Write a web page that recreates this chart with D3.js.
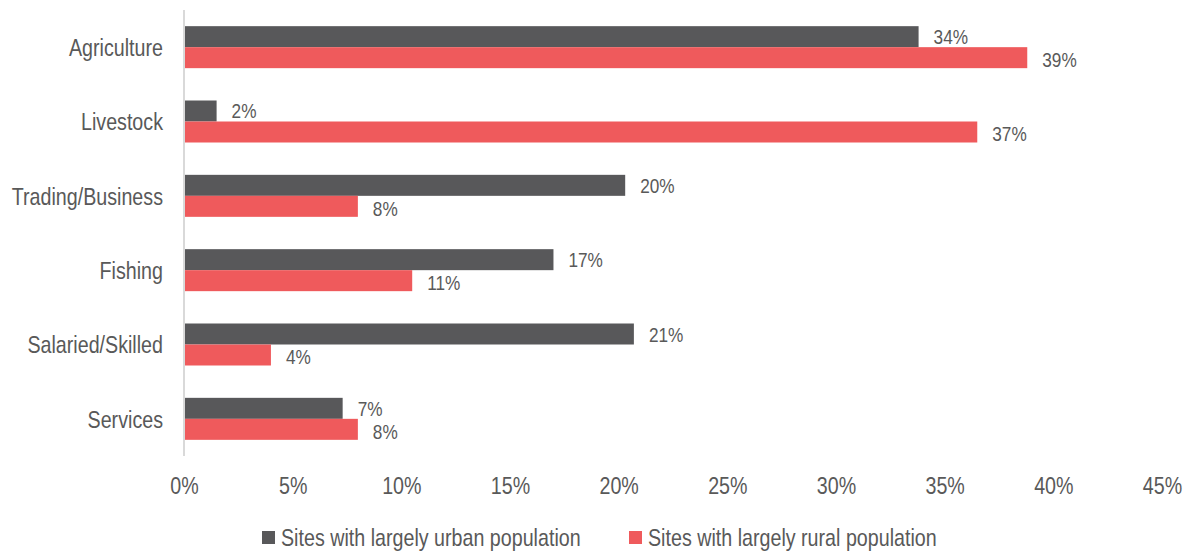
<!DOCTYPE html>
<html><head><meta charset="utf-8">
<script src="https://cdn.jsdelivr.net/npm/d3@7"></script>
<style>
html,body{margin:0;padding:0;background:#fff;}
text{font-family:"Liberation Sans Narrow","Liberation Sans",Arial,sans-serif;fill:#595959;}
</style></head><body>
<svg id="chart" width="1189" height="552"></svg>
<script>
const categories = ["Agriculture","Livestock","Trading/Business","Fishing","Salaried/Skilled","Services"];
const seriesNames = ["Sites with largely urban population","Sites with largely rural population"];
const urbanValues = [33.8, 1.5, 20.3, 17.0, 20.7, 7.3];
const ruralValues = [38.8, 36.5, 8.0, 10.5, 4.0, 8.0];
const xTicks = [0,5,10,15,20,25,30,35,40,45];
const colors = ["#58585a","#ef5a5c"];

const SX = 0.82; // horizontal squeeze to mimic a narrow font
function narrow(sel, xf){
  sel.attr("x", (d,i)=> xf(d,i)/SX).attr("transform", `scale(${SX},1)`);
}

const svg = d3.select("#chart");
const W = 1189, H = 552;
const m = {left:184, right:W-1162, top:10, bottom:H-456};
const x = d3.scaleLinear().domain([0,45]).range([m.left, W-m.right]);
const y = d3.scaleBand().domain(categories).range([m.top, H-m.bottom]).paddingInner(0.435).paddingOuter(0.2175);
const sub = d3.scaleBand().domain([0,1]).range([0, y.bandwidth()]);

// axis line
svg.append("line").attr("x1",x(0)).attr("x2",x(0)).attr("y1",m.top).attr("y2",H-m.bottom)
  .attr("stroke","#d9d9d9").attr("stroke-width",2);

const series = [urbanValues, ruralValues];
series.forEach((vals, si) => {
  const g = svg.append("g");
  g.selectAll("rect").data(categories).enter().append("rect")
    .attr("x", x(0)+1)
    .attr("y", (d)=> y(d)+sub(si))
    .attr("width", (d,i)=> x(vals[i]) - x(0) - 1)
    .attr("height", sub.bandwidth())
    .attr("fill", colors[si]);
  const t = g.selectAll("text").data(categories).enter().append("text")
    .attr("y", (d)=> y(d)+sub(si)+sub.bandwidth()/2 + (si===0 ? 7.5 : 9.5))
    .attr("font-size",21)
    .text((d,i)=> Math.round(vals[i]) + "%");
  narrow(t, (d,i)=> x(vals[i]) + 15);
});

// category labels
const cl = svg.append("g").selectAll("text").data(categories).enter().append("text")
  .attr("y", d=> y(d)+y.bandwidth()/2 + 9)
  .attr("text-anchor","end")
  .attr("font-size",24)
  .text(d=>d);
narrow(cl, ()=> x(0)-21);

// x tick labels
const xAxis = d3.axisBottom(x).tickValues(xTicks).tickFormat(d=> d+"%").tickSize(0).tickPadding(0);
const ax = svg.append("g").attr("transform",`translate(0,${494})`).call(xAxis);
ax.select(".domain").remove();
ax.selectAll("text").attr("font-size",24).attr("fill","#595959").attr("dy",null).attr("y",0)
  .style("font-family",null).attr("transform",`scale(${SX},1)`);
ax.attr("font-family",null).attr("font-size",null);

// legend
const legendX = [262, 629];
seriesNames.forEach((n,i)=>{
  svg.append("rect").attr("x",legendX[i]).attr("y",531).attr("width",13).attr("height",13).attr("fill",colors[i]);
  const t = svg.append("text").datum(n).attr("y",546).attr("font-size",24).text(n);
  narrow(t, ()=> legendX[i]+19);
});
</script>
</body></html>
